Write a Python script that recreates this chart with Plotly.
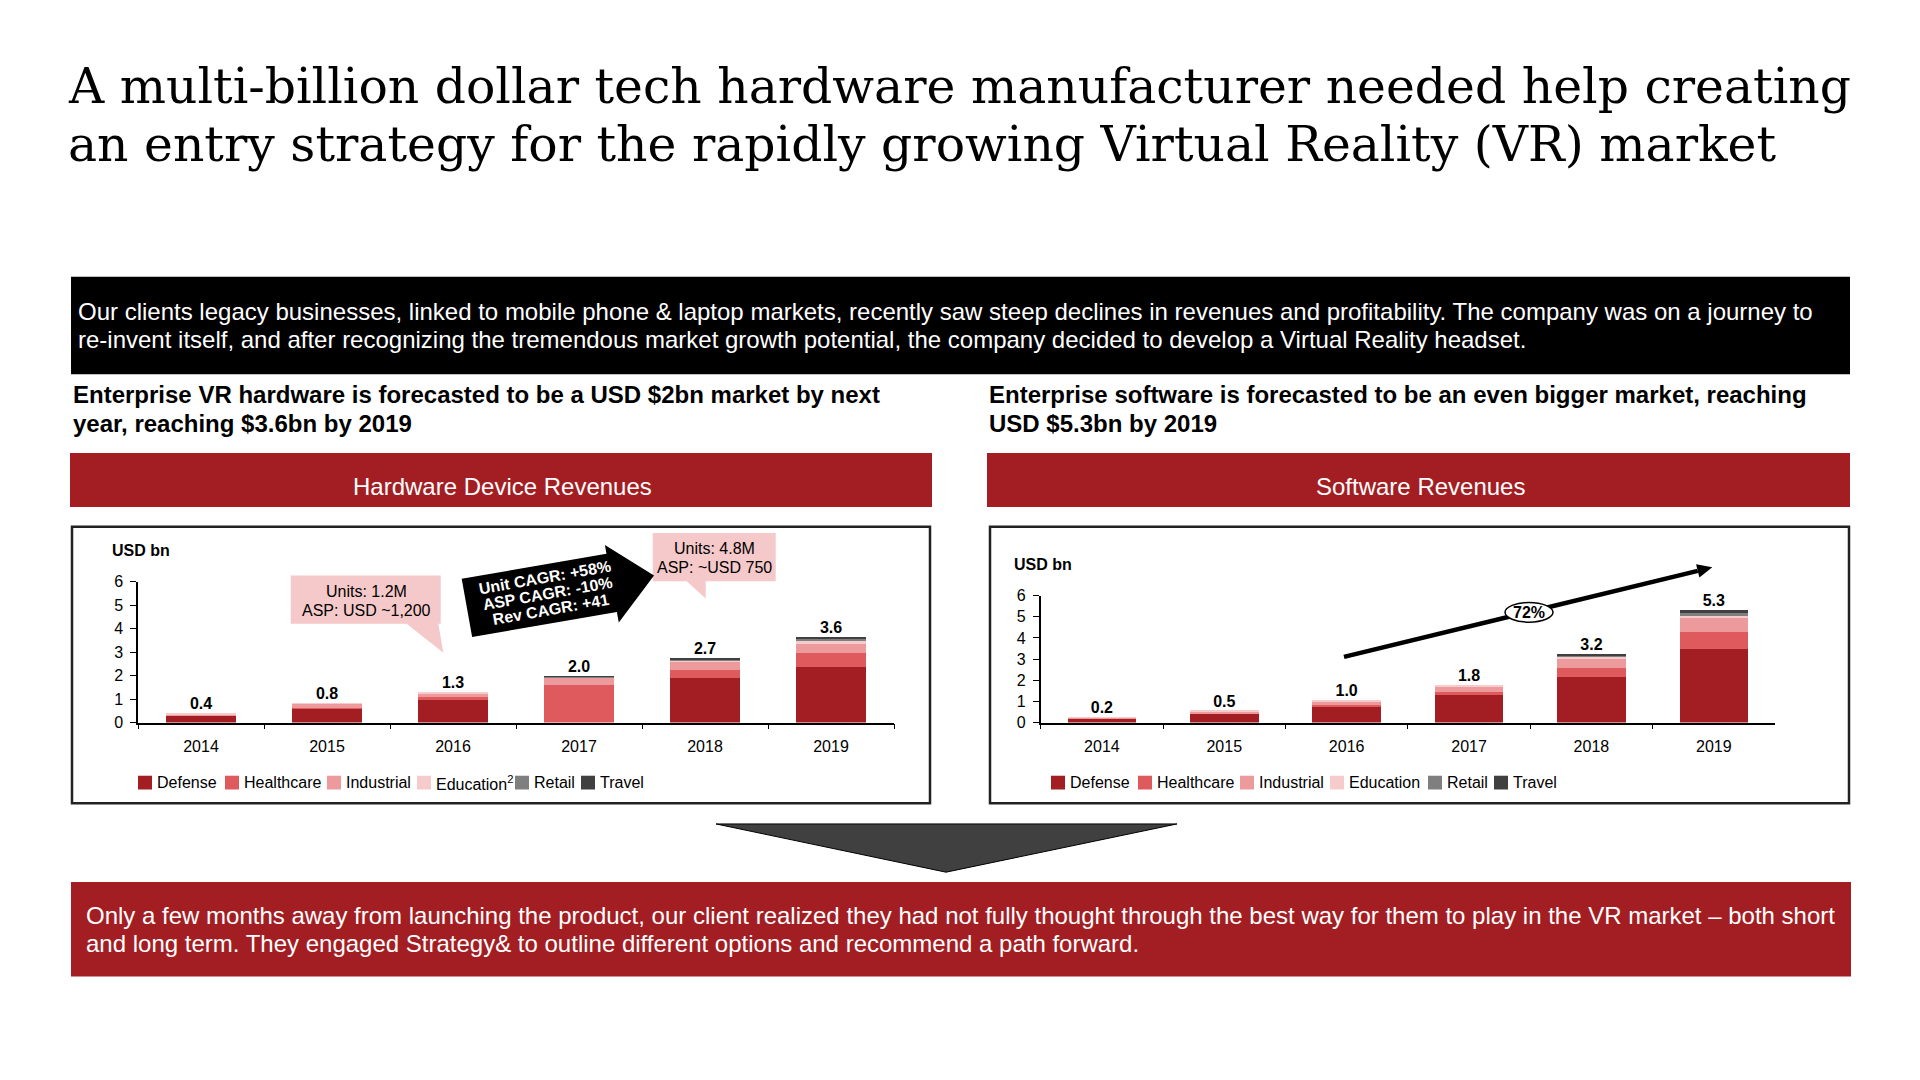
import math
import plotly.graph_objects as go

W, H = 1920, 1080

# ---------------- data ----------------
years = ["2014", "2015", "2016", "2017", "2018", "2019"]
segments = ["Defense", "Healthcare", "Industrial", "Education", "Retail", "Travel"]
hw_legend_labels = ["Defense", "Healthcare", "Industrial", "Education<sup>2</sup>", "Retail", "Travel"]
sw_legend_labels = ["Defense", "Healthcare", "Industrial", "Education", "Retail", "Travel"]

hw_defense = [0.30, 0.60, 0.95, 0.00, 1.88, 2.36]
hw_healthcare = [0.03, 0.04, 0.12, 1.61, 0.36, 0.60]
hw_industrial = [0.03, 0.16, 0.14, 0.30, 0.37, 0.43]
hw_education = [0.04, 0.02, 0.09, 0.03, 0.04, 0.07]
hw_retail = [0.00, 0.00, 0.00, 0.02, 0.05, 0.11]
hw_travel = [0.00, 0.00, 0.00, 0.01, 0.04, 0.09]
hw_totals = [0.4, 0.8, 1.3, 2.0, 2.7, 3.6]

sw_defense = [0.20, 0.44, 0.80, 1.28, 2.14, 3.50]
sw_healthcare = [0.02, 0.03, 0.05, 0.16, 0.46, 0.79]
sw_industrial = [0.02, 0.07, 0.15, 0.25, 0.46, 0.70]
sw_education = [0.01, 0.03, 0.06, 0.10, 0.06, 0.05]
sw_retail = [0.00, 0.00, 0.00, 0.00, 0.06, 0.15]
sw_travel = [0.00, 0.00, 0.00, 0.00, 0.05, 0.15]
sw_totals = [0.2, 0.5, 1.0, 1.8, 3.2, 5.3]

y_ticks = [0, 1, 2, 3, 4, 5, 6]

title_lines = [
    "A multi-billion dollar tech hardware manufacturer needed help creating",
    "an entry strategy for the rapidly growing Virtual Reality (VR) market",
]
intro_lines = [
    "Our clients legacy businesses, linked to mobile phone & laptop markets, recently saw steep declines in revenues and profitability. The company was on a journey to",
    "re-invent itself, and after recognizing the tremendous market growth potential, the company decided to develop a Virtual Reality headset.",
]
hw_heading = ["Enterprise VR hardware is forecasted to be a USD $2bn market by next", "year, reaching $3.6bn by 2019"]
sw_heading = ["Enterprise software is forecasted to be an even bigger market, reaching", "USD $5.3bn by 2019"]
hw_panel_title = "Hardware Device Revenues"
sw_panel_title = "Software Revenues"
callout_2016 = ["Units: 1.2M", "ASP: USD ~1,200"]
callout_2019 = ["Units: 4.8M", "ASP: ~USD 750"]
cagr_lines = ["Unit CAGR: +58%", "ASP CAGR: -10%", "Rev CAGR: +41"]
sw_cagr = "72%"
closing_lines = [
    "Only a few months away from launching the product, our client realized they had not fully thought through the best way for them to play in the VR market \u2013 both short",
    "and long term. They engaged Strategy& to outline different options and recommend a path forward.",
]

# ---------------- style ----------------
COLORS = ["#A31E22", "#DE5A5C", "#EC9A9B", "#F6CBCC", "#7F7F7F", "#404040"]
RED = "#A31E22"
PINK = "#F5C8C9"
SANS = "Liberation Sans, Arial, sans-serif"
SERIF = "DejaVu Serif, Georgia, serif"


def px(x):
    return x / W


def py(y):
    return 1 - y / H


fig = go.Figure()

hw_series = [hw_defense, hw_healthcare, hw_industrial, hw_education, hw_retail, hw_travel]
sw_series = [sw_defense, sw_healthcare, sw_industrial, sw_education, sw_retail, sw_travel]

for name, vals, col in zip(segments, hw_series, COLORS):
    fig.add_trace(go.Bar(x=years, y=vals, name=name, marker=dict(color=col, line=dict(width=0)),
                         width=0.55, showlegend=False, xaxis="x", yaxis="y"))
for name, vals, col in zip(segments, sw_series, COLORS):
    fig.add_trace(go.Bar(x=years, y=vals, name=name, marker=dict(color=col, line=dict(width=0)),
                         width=0.56, showlegend=False, xaxis="x2", yaxis="y2"))

hw_tops = [sum(v) for v in zip(*hw_series)]
sw_tops = [sum(v) for v in zip(*sw_series)]
fig.add_trace(go.Scatter(x=years, y=hw_tops, mode="text", text=[f"{t:.1f}" for t in hw_totals],
                         textposition="top center", textfont=dict(family=SANS, size=16, color="black", weight="bold"),
                         showlegend=False, hoverinfo="skip", cliponaxis=False, xaxis="x", yaxis="y"))
fig.add_trace(go.Scatter(x=years, y=sw_tops, mode="text", text=[f"{t:.1f}" for t in sw_totals],
                         textposition="top center", textfont=dict(family=SANS, size=16, color="black", weight="bold"),
                         showlegend=False, hoverinfo="skip", cliponaxis=False, xaxis="x2", yaxis="y2"))

axis_common = dict(showgrid=False, zeroline=False, showline=True, linecolor="black", linewidth=1.5,
                   ticks="outside", tickcolor="black", tickfont=dict(family=SANS, size=16, color="black"))

fig.update_layout(
    width=W, height=H, margin=dict(l=0, r=0, t=0, b=0),
    paper_bgcolor="white", plot_bgcolor="white", barmode="stack", bargap=0.45,
    xaxis=dict(domain=[px(138), px(894)], anchor="y", type="category", tickson="boundaries",
               ticklen=5, ticklabelstandoff=8, range=[-0.5, 5.5], **axis_common),
    yaxis=dict(domain=[py(726), py(583)], anchor="x", range=[0, 6], tickvals=y_ticks,
               ticklen=6, ticklabelstandoff=4, **axis_common),
    xaxis2=dict(domain=[px(1040.7), px(1775)], anchor="y2", type="category", tickson="boundaries",
                ticklen=5, ticklabelstandoff=8, range=[-0.5, 5.5], **axis_common),
    yaxis2=dict(domain=[py(726), py(597)], anchor="x2", range=[0, 6], tickvals=y_ticks,
                ticklen=6, ticklabelstandoff=4, **axis_common),
)

shapes = []
annotations = []


def rect(x0, y0, x1, y1, fill, line_color=None, line_width=0, layer="below"):
    shapes.append(dict(type="rect", xref="paper", yref="paper", x0=px(x0), x1=px(x1), y0=py(y1), y1=py(y0),
                       fillcolor=fill, line=dict(color=line_color or fill, width=line_width), layer=layer))


def poly(points, fill, line_color=None, line_width=0, layer="above"):
    path = "M " + " L ".join(f"{px(x):.5f},{py(y):.5f}" for x, y in points) + " Z"
    shapes.append(dict(type="path", xref="paper", yref="paper", path=path, fillcolor=fill,
                       line=dict(color=line_color or fill, width=line_width), layer=layer))


def text(x, y, s, size, color="black", family=SANS, bold=False, xanchor="left", angle=0):
    annotations.append(dict(x=px(x), y=py(y), xref="paper", yref="paper", text=s, showarrow=False,
                            xanchor=xanchor, yanchor="middle", textangle=angle,
                            font=dict(family=family, size=size, color=color, weight="bold" if bold else "normal")))


# title
text(66, 80, title_lines[0], 48.8, family=SERIF)
text(66, 139, title_lines[1], 48.8, family=SERIF)

# intro black box
rect(71, 273, 1850, 372, "black")
text(76, 308, intro_lines[0], 24, color="white")
text(76, 337, intro_lines[1], 24, color="white")

# sub headings
text(71, 393, hw_heading[0], 24, bold=True)
text(71, 422, hw_heading[1], 24, bold=True)
text(987, 393, sw_heading[0], 24, bold=True)
text(987, 422, sw_heading[1], 24, bold=True)

# red panel headers
rect(70, 452, 932, 507, RED)
rect(987, 452, 1850, 507, RED)
text(502, 486, hw_panel_title, 24, color="white", xanchor="center")
text(1420, 486, sw_panel_title, 24, color="white", xanchor="center")

# chart frames
rect(72, 527, 930, 808, "rgba(0,0,0,0)", "#222222", 2.5)
rect(990, 527, 1849, 808, "rgba(0,0,0,0)", "#222222", 2.5)

# USD bn labels
text(110, 551, "USD bn", 16, bold=True)
text(1012, 565, "USD bn", 16, bold=True)

# legends
legend_offsets = [0, 87, 189, 279, 377, 443]
for start, labels in ((138, hw_legend_labels), (1051, sw_legend_labels)):
    for off, lab, col in zip(legend_offsets, labels, COLORS):
        x0 = start + off
        rect(x0, 780, x0 + 14, 794, col, layer="above")
        text(x0 + 17, 787, lab, 16)

# callout 2016
poly([(290.7, 576.7), (440.7, 576.7), (440.7, 625.7), (438.3, 625.7), (443.3, 655), (406.7, 625.7), (290.7, 625.7)], PINK)
text(366, 593, callout_2016[0], 16, xanchor="center")
text(366, 612, callout_2016[1], 16, xanchor="center")

# callout 2019
poly([(652.7, 533.3), (775.7, 533.3), (775.7, 582.3), (705.7, 582.3), (705.7, 600), (686.7, 582.3), (652.7, 582.3)], PINK)
text(714, 549.5, callout_2019[0], 16, xanchor="center")
text(714, 568.5, callout_2019[1], 16, xanchor="center")

# black CAGR block arrow
ang = math.radians(10)
d = (math.cos(ang), -math.sin(ang))
n = (math.sin(ang), math.cos(ang))
ox, oy = 461.7, 580.0
local = [(0, 0), (147, 0), (147, -9), (190, 30), (147, 71), (147, 60), (0, 60)]
poly([(ox + a * d[0] + b * n[0], oy + a * d[1] + b * n[1]) for a, b in local], "black")
cx, cy = ox + 82 * d[0] + 30 * n[0], oy + 82 * d[1] + 30 * n[1]
for k, line in zip((-1, 0, 1), cagr_lines):
    text(cx + k * 16.5 * n[0], cy + k * 16.5 * n[1], line, 16, color="white", bold=True, xanchor="center", angle=-10)

# software growth arrow
sx, sy, tx, ty = 1344, 659.3, 1712.3, 568.3
L = math.hypot(tx - sx, ty - sy)
ux, uy = (tx - sx) / L, (ty - sy) / L
bx, by = tx - 15 * ux, ty - 15 * uy
shapes.append(dict(type="line", xref="paper", yref="paper", x0=px(sx), y0=py(sy), x1=px(bx), y1=py(by),
                   line=dict(color="black", width=4.5), layer="above"))
poly([(tx, ty), (bx - 7 * uy, by + 7 * ux), (bx + 7 * uy, by - 7 * ux)], "black")
shapes.append(dict(type="circle", xref="paper", yref="paper", x0=px(1505), x1=px(1553), y0=py(624), y1=py(604),
                   fillcolor="white", line=dict(color="black", width=1.5), layer="above"))
text(1529, 614.5, sw_cagr, 16, bold=True, xanchor="center")

# down arrow triangle
poly([(716, 829), (1177, 829), (946, 878)], "#404040", "black", 1)

# closing red box
rect(71, 888, 1851, 984, RED)
text(84, 922, closing_lines[0], 24, color="white")
text(84, 950, closing_lines[1], 24, color="white")

fig.update_layout(shapes=shapes, annotations=annotations)
fig.write_html("out.html")
